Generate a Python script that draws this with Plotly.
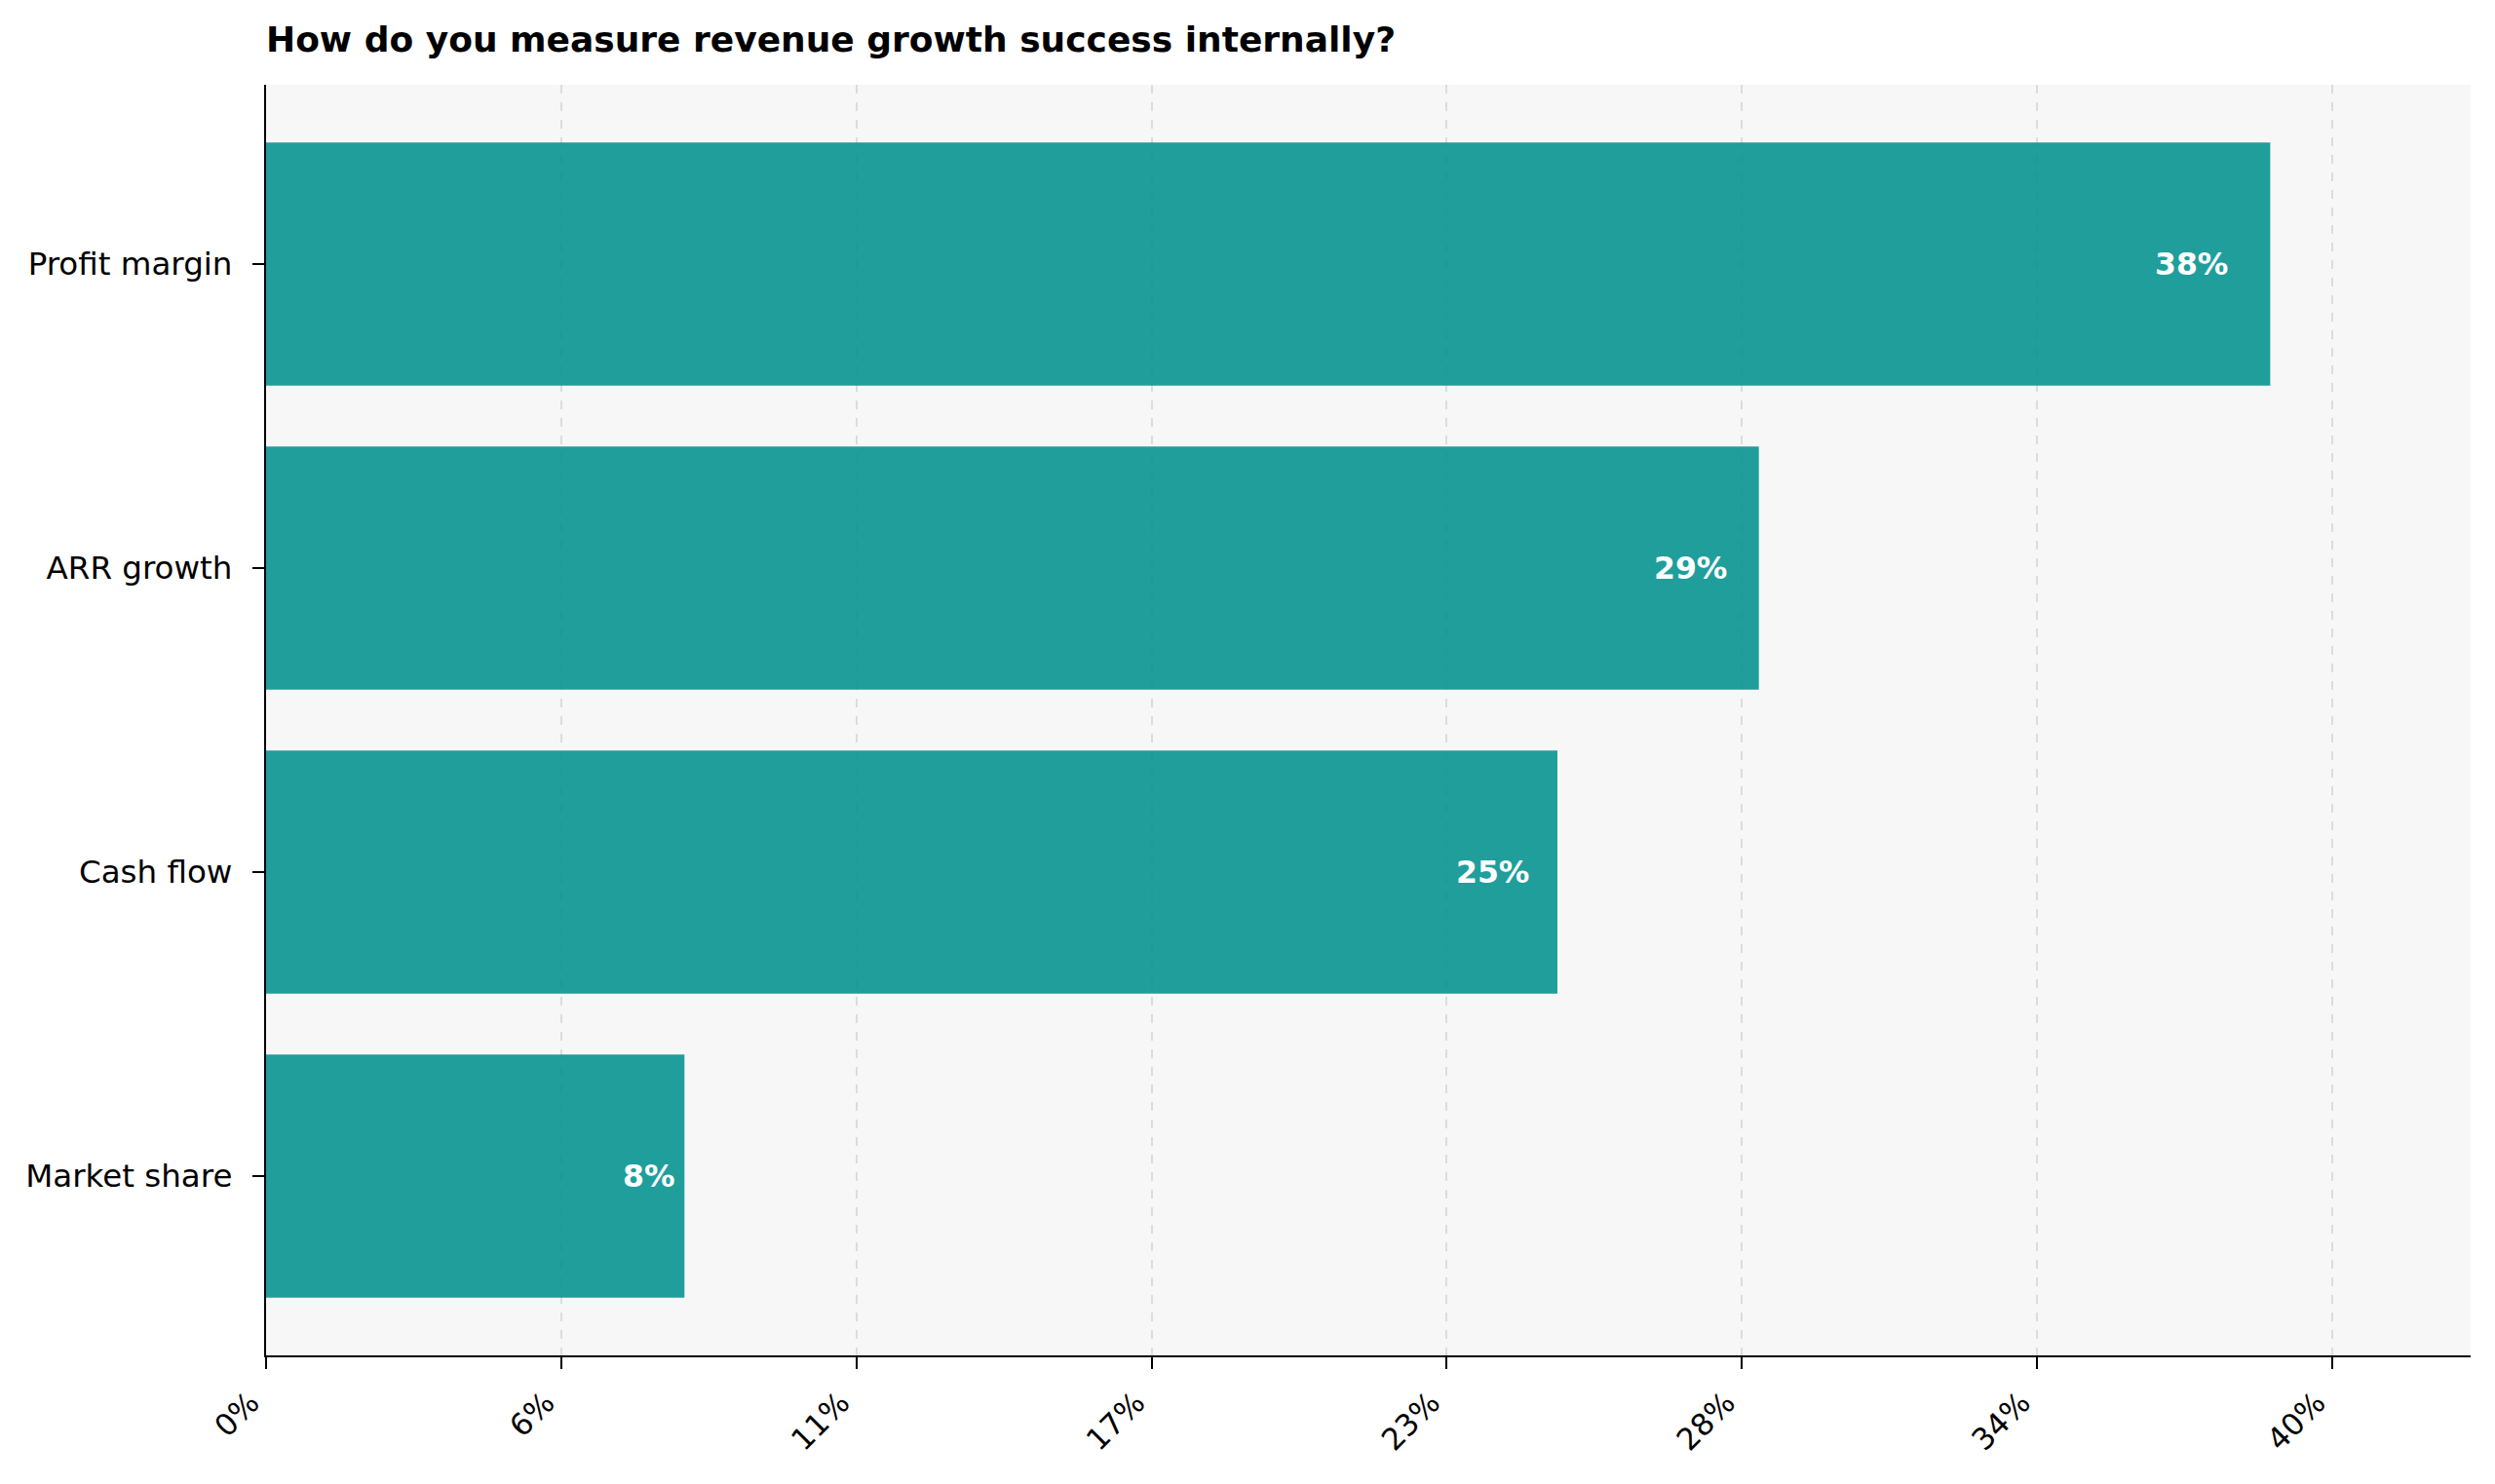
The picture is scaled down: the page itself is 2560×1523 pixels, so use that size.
import plotly.graph_objects as go

# Data (top to bottom in the chart)
categories = ["Profit margin", "ARR growth", "Cash flow", "Market share"]
values = [38.8, 28.9, 25.0, 8.1]
value_labels = ["38%", "29%", "25%", "8%"]

x_tick_vals = [0, 5.714, 11.429, 17.143, 22.857, 28.571, 34.286, 40.0]
x_tick_text = ["0%", "6%", "11%", "17%", "23%", "28%", "34%", "40%"]

title_text = "How do you measure revenue growth success internally?"

FONT = "DejaVu Sans"
BAR_COLOR = "rgba(7,148,145,0.9)"

# plot bottom-to-top so the first category is on top
cats_plot = categories[::-1]
vals_plot = values[::-1]
labels_plot = value_labels[::-1]

fig = go.Figure()
fig.add_trace(go.Bar(
    y=cats_plot,
    x=vals_plot,
    orientation="h",
    width=0.8,
    marker=dict(color=BAR_COLOR, line=dict(width=0)),
    hoverinfo="skip",
))

for c, v, lab in zip(cats_plot, vals_plot, labels_plot):
    fig.add_annotation(
        x=v * 0.98, y=c, xref="x", yref="y",
        text=f"<b>{lab}</b>", showarrow=False,
        xanchor="right", yanchor="middle",
        font=dict(family=FONT, size=31.5, color="white"),
    )

xmax = max(values) * 1.1

fig.update_layout(
    width=2560, height=1523,
    margin=dict(l=273, r=25, t=87, b=132),
    paper_bgcolor="white",
    plot_bgcolor="#f7f7f7",
    showlegend=False,
    bargap=0.2,
    font=dict(family=FONT, size=31, color="black"),
    title=dict(
        text=f"<b>{title_text}</b>",
        x=273 / 2560, xanchor="left", xref="container",
        y=1 - 40 / 1523, yanchor="middle", yref="container",
        font=dict(family=FONT, size=36, color="black"),
    ),
    xaxis=dict(
        range=[0, xmax],
        tickmode="array", tickvals=x_tick_vals, ticktext=x_tick_text,
        tickangle=-45,
        ticklabelshift=-16,
        ticklabelstandoff=4,
        showgrid=True, gridcolor="#dcdcdc", griddash="dash", gridwidth=1.5,
        zeroline=False,
        showline=True, linecolor="black", linewidth=2.2,
        ticks="outside", ticklen=12, tickwidth=2.2, tickcolor="black",
        tickfont=dict(family=FONT, size=31, color="black"),
        fixedrange=True,
    ),
    yaxis=dict(
        type="category",
        categoryorder="array", categoryarray=cats_plot,
        range=[-0.59, 3.59],
        showgrid=False, zeroline=False,
        showline=True, linecolor="black", linewidth=2.2,
        ticks="outside", ticklen=12, tickwidth=2.2, tickcolor="black",
        ticklabelstandoff=14,
        tickfont=dict(family=FONT, size=32.5, color="black"),
        fixedrange=True,
    ),
)

fig.write_html("out.html")
